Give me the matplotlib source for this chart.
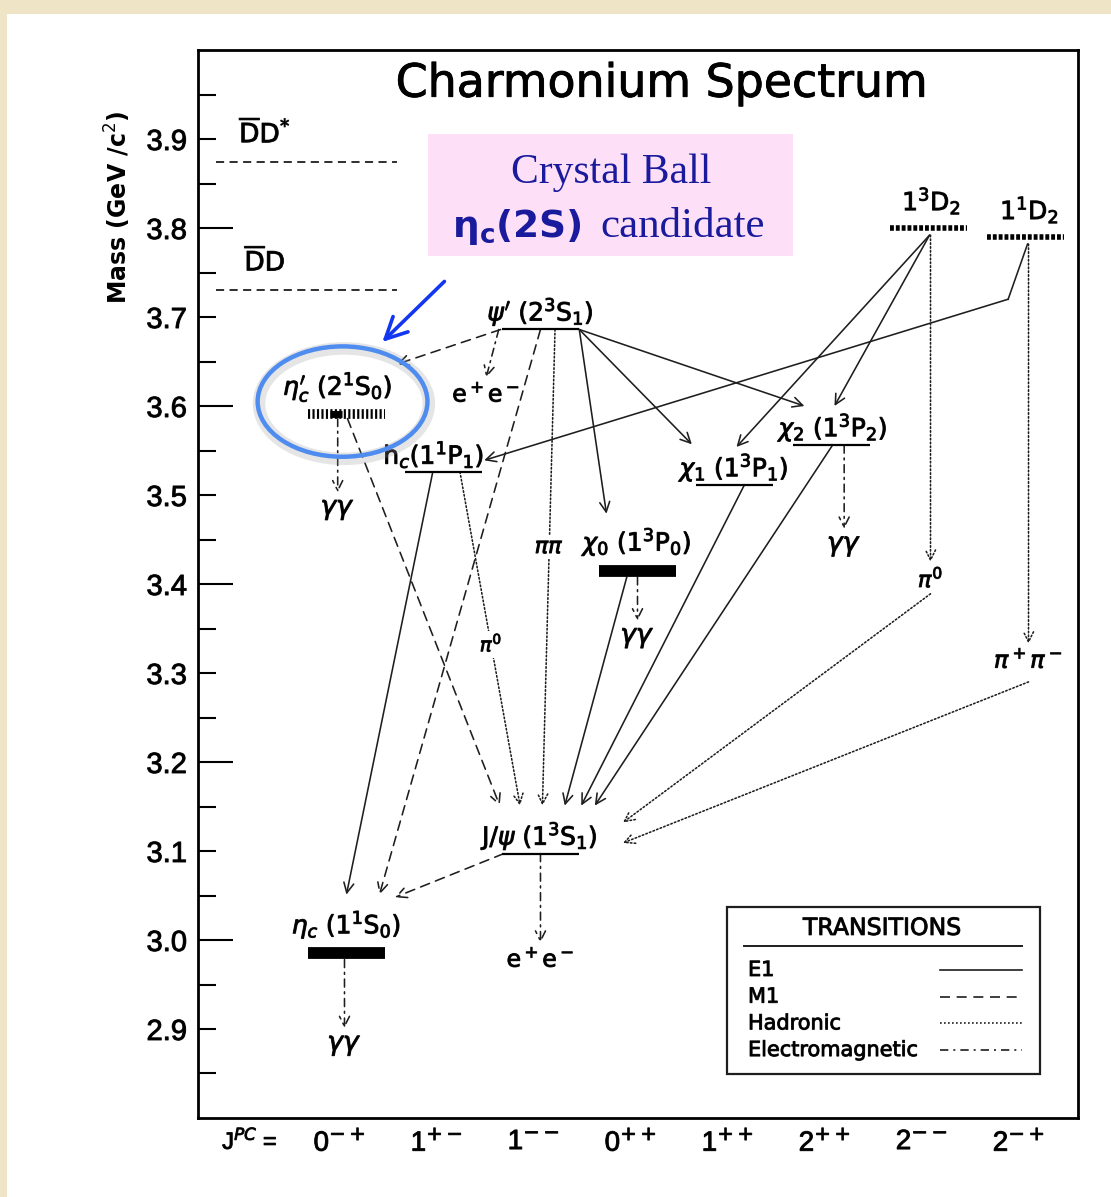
import numpy as np
import matplotlib.pyplot as plt
from matplotlib.patches import Ellipse, Rectangle
from matplotlib.ticker import FuncFormatter
import matplotlib.patheffects as pe

plt.rcParams['mathtext.fontset'] = 'dejavusans'
plt.rcParams['font.family'] = ['DejaVu Sans']

INK = '#1e1e1e'
NAVY = '#1a1a9c'
HEAVY = [pe.withStroke(linewidth=0.7, foreground=INK)]

# charmonium states, masses in GeV/c^2, J^PC column
states = ['etac', 'jpsi', 'etac2s', 'psi2s', 'hc', 'chi0', 'chi1', 'chi2', 'd13', 'd11']
masses = [2.985, 3.097, 3.591, 3.686, 3.526, 3.415, 3.511, 3.556, 3.800, 3.790]
jpc_index = [0, 2, 0, 2, 1, 3, 4, 5, 6, 7]
level_kind = ['thick', 'line', 'hatched', 'line', 'line', 'thick', 'line', 'line', 'dotted', 'dotted']
state_labels = [r'$\eta_c$ (1$^1$S$_0$)', r'J/$\psi$ (1$^3$S$_1$)', r"$\eta_c'$ (2$^1$S$_0$)",
                r"$\psi'$ (2$^3$S$_1$)", r'h$_c$(1$^1$P$_1$)', r'$\chi_0$ (1$^3$P$_0$)',
                r'$\chi_1$ (1$^3$P$_1$)', r'$\chi_2$ (1$^3$P$_2$)', r'1$^3$D$_2$', r'1$^1$D$_2$']
label_dx = [0.0, 0.0, -0.09, 0.0, -0.1, 0.0, 0.0, 0.02, 0.03, 0.04]

jpc_labels = [r'0$^{-+}$', r'1$^{+-}$', r'1$^{--}$', r'0$^{++}$', r'1$^{++}$', r'2$^{++}$', r'2$^{--}$', r'2$^{-+}$']

# open charm thresholds
thresholds = [3.730, 3.874]
threshold_labels = [r'$\overline{\mathrm{D}}$D', r'$\overline{\mathrm{D}}$D$^{*}$']

# radiative / hadronic transitions between levels:
# (from, to, type, start dx, end dx, end height above target)
transitions = [
    ('psi2s', 'etac2s', 'M1', -0.41, 0.52, 0.056),
    ('psi2s', 'etac', 'M1', 0.0, 0.34, 0.066),
    ('psi2s', 'jpsi', 'had', 0.15, 0.02, 0.054),
    ('psi2s', 'chi0', 'E1', 0.40, -0.32, 0.064),
    ('psi2s', 'chi1', 'E1', 0.40, -0.44, 0.046),
    ('psi2s', 'chi2', 'E1', 0.40, -0.28, 0.044),
    ('etac2s', 'jpsi', 'M1', 0.01, -0.42, 0.054),
    ('hc', 'etac', 'E1', -0.11, 0.0, 0.066),
    ('hc', 'jpsi', 'had', 0.17, -0.21, 0.054),
    ('chi0', 'jpsi', 'E1', -0.11, 0.25, 0.054),
    ('chi1', 'jpsi', 'E1', 0.10, 0.42, 0.054),
    ('chi2', 'jpsi', 'E1', 0.01, 0.56, 0.054),
    ('d13', 'chi1', 'E1', 0.01, 0.02, 0.043),
    ('d13', 'chi2', 'E1', 0.01, 0.03, 0.044),
    ('jpsi', 'etac', 'M1', -0.38, 0.5, 0.063),
]
# labels sitting on a transition line: (from, to, text, fraction along line, size)
line_tags = [('psi2s', 'jpsi', r'$\pi\pi$', 0.457, 16), ('hc', 'jpsi', r'$\pi^0$', 0.517, 14)]

# decays to final states: (from, product, type, start dx, end dx, drop of arrow tip, size)
decays = [
    ('psi2s', r'e$^+$e$^-$', 'EM', -0.43, -0.56, 0.054, 17),
    ('etac2s', r'$\gamma\gamma$', 'EM', -0.09, -0.09, 0.088, 19),
    ('chi0', r'$\gamma\gamma$', 'EM', 0.0, 0.0, 0.056, 19),
    ('chi2', r'$\gamma\gamma$', 'EM', 0.13, 0.13, 0.094, 19),
    ('jpsi', r'e$^+$e$^-$', 'EM', 0.0, 0.0, 0.100, 17),
    ('etac', r'$\gamma\gamma$', 'EM', -0.02, -0.02, 0.084, 19),
    ('d13', r'$\pi^0$', 'had', 0.02, 0.02, 0.375, 16),
    ('d11', r'$\pi^+\pi^-$', 'had', 0.03, 0.03, 0.457, 17),
]
# pions go on to J/psi: (from, start drop below arrow tip, end dx, end height)
cascades = [('d13', 0.036, 0.85, 0.035), ('d11', 0.043, 0.85, 0.012)]

styles = {'E1': '-', 'M1': (0, (6, 4)), 'had': (0, (1, 1.4)), 'EM': (0, (5, 3, 1.2, 3))}
legend_names = ['E1', 'M1', 'Hadronic', 'Electromagnetic']
legend_kinds = ['E1', 'M1', 'had', 'EM']


def arrow(ax, p0, p1, kind, lw=1.15):
    ax.annotate('', xy=p1, xytext=p0,
                arrowprops=dict(arrowstyle='->', lw=lw, color=INK, linestyle=styles[kind],
                                shrinkA=0, shrinkB=0, mutation_scale=18), zorder=2)


fig = plt.figure(figsize=(11.11, 11.97), dpi=100, facecolor='#efe4c6')
fig.add_artist(Rectangle((7 / 1111, 0), 1, 1 - 14 / 1197, transform=fig.transFigure,
                         facecolor='white', edgecolor='none', zorder=-10))
ax = fig.add_axes([0.1782, 0.0660, 0.7921, 0.8922])
ax.set_xlim(-1.46, 7.61)
ax.set_ylim(2.8, 4.0)
for s in ax.spines.values():
    s.set_linewidth(2.0)

# long ticks every 0.2, short ones in between; labels every 0.1
ax.set_yticks(np.arange(3.0, 3.85, 0.2))
ax.set_yticks([v for v in np.arange(2.85, 4.0, 0.05) if abs(round(v * 5) - v * 5) > 0.01], minor=True)
ax.yaxis.set_major_formatter(FuncFormatter(lambda v, p: f'{v:.1f}'))
ax.yaxis.set_minor_formatter(FuncFormatter(lambda v, p: f'{v:.1f}' if abs(round(v * 10) - v * 10) < 0.01 else ''))
ax.tick_params(axis='y', which='major', direction='in', length=25, width=1.5, labelsize=21, pad=8)
ax.tick_params(axis='y', which='minor', direction='in', length=13, width=1.5, labelsize=21, pad=8)
for t in ax.get_yticklabels(which='both'):
    t.set_family(['Liberation Sans', 'DejaVu Sans'])
    t.set_path_effects(HEAVY)
ax.set_xticks(range(len(jpc_labels)))
ax.set_xticklabels(jpc_labels)
ax.tick_params(axis='x', length=0, labelsize=20, pad=8)
for t in ax.get_xticklabels():
    t.set_family(['Liberation Sans Narrow', 'Liberation Sans', 'DejaVu Sans'])
    t.set_path_effects(HEAVY)
ax.text(0.059, -0.021, r'J$^{PC}$ =', transform=ax.transAxes, ha='center', va='center', fontsize=17,
        family=['Liberation Sans Narrow', 'Liberation Sans', 'DejaVu Sans'], path_effects=HEAVY)

fig.text(118 / 1111, 1 - 207 / 1197, r'Mass (GeV /c$^2$)', rotation=90, ha='center', va='center',
         fontsize=17, fontweight='bold')
ax.text(0.527, 0.968, 'Charmonium Spectrum', transform=ax.transAxes, ha='center', va='center', fontsize=33,
        path_effects=[pe.withStroke(linewidth=0.6, foreground='black')])

# thresholds
for m, lab in zip(thresholds, threshold_labels):
    ax.plot([-1.27, 0.59], [m, m], color=INK, lw=1.3, linestyle=(0, (4.5, 3)))
    ax.annotate(lab, xy=(-0.77, m), xytext=(0, 21), textcoords='offset points',
                ha='center', va='center', fontsize=19, path_effects=HEAVY)

# levels
label_off = {'thick': 9, 'line': 1, 'hatched': 7, 'dotted': 8}
drop = {'thick': 0.007, 'line': 0.0, 'hatched': 0.005, 'dotted': 0.008}
pos = {}
for name, m, col, kind, lab, ldx in zip(states, masses, jpc_index, level_kind, state_labels, label_dx):
    x = col + 0.07
    pos[name] = (x, m, kind)
    xs = [x - 0.4, x + 0.4]
    if kind == 'thick':
        ax.plot(xs, [m, m], color='black', lw=8.5, solid_capstyle='butt', zorder=3)
    elif kind == 'line':
        ax.plot(xs, [m, m], color='black', lw=1.6, solid_capstyle='butt', zorder=3)
    elif kind == 'hatched':
        ax.plot(xs, [m, m], color='black', lw=7, linestyle=(0, (0.22, 0.24)), dash_capstyle='butt', zorder=3)
        ax.plot([x - 0.17, x - 0.05], [m, m], color='black', lw=5, solid_capstyle='butt', zorder=3)
    else:
        ax.plot(xs, [m, m], color='black', lw=4, linestyle=(0, (0.7, 0.35)), dash_capstyle='butt', zorder=3)
    ax.annotate(lab, xy=(x + ldx, m), xytext=(0, label_off[kind]), textcoords='offset points',
                ha='center', va='bottom', fontsize=18, path_effects=HEAVY)

# transitions between levels
ends = {}
for src, dst, kind, sdx, edx, edy in transitions:
    x0, m0, k0 = pos[src]
    x1, m1, _ = pos[dst]
    p0 = (x0 + sdx, m0 - drop[k0])
    p1 = (x1 + edx, m1 + edy)
    ends[(src, dst)] = (p0, p1)
    arrow(ax, p0, p1, kind)

for src, dst, lab, frac, size in line_tags:
    p0, p1 = ends[(src, dst)]
    ax.text(p0[0] + frac * (p1[0] - p0[0]), p0[1] + frac * (p1[1] - p0[1]), lab, ha='center', va='center',
            fontsize=size, zorder=4, path_effects=HEAVY,
            bbox=dict(facecolor='white', edgecolor='none', pad=1.5))

# 1^1D_2 -> h_c runs along a bent path
x0, m0, _ = pos['d11']
xh, mh, _ = pos['hc']
bend = (x0 - 0.18, m0 - 0.07)
ax.plot([x0 + 0.02, bend[0]], [m0 - 0.008, bend[1]], color=INK, lw=1.15)
arrow(ax, bend, (xh + 0.42, mh + 0.013), 'E1')

# decays to final states
tips = {}
for src, lab, kind, sdx, edx, dy, size in decays:
    x0, m0, k0 = pos[src]
    tip = (x0 + edx, m0 - dy)
    tips[src] = tip
    arrow(ax, (x0 + sdx, m0 - drop[k0]), tip, kind)
    ax.annotate(lab, xy=tip, xytext=(0, -3), textcoords='offset points', ha='center', va='top',
                fontsize=size, path_effects=HEAVY)

xj, mj, _ = pos['jpsi']
for src, sdrop, edx, edy in cascades:
    tx, ty = tips[src]
    arrow(ax, (tx, ty - sdrop), (xj + edx, mj + edy), 'had')

# legend box
ax.add_patch(Rectangle((0.601, 0.0412), 0.356, 0.1564, transform=ax.transAxes, fill=False,
                       edgecolor=INK, lw=1.6, zorder=5))
ax.text(0.778, 0.178, 'TRANSITIONS', transform=ax.transAxes, ha='center', va='center', fontsize=17,
        zorder=5, path_effects=HEAVY)
ax.plot([0.620, 0.936], [0.161, 0.161], transform=ax.transAxes, color=INK, lw=1.4, zorder=5)
for i, (name, kind) in enumerate(zip(legend_names, legend_kinds)):
    yy = 0.1386 - i * 0.0250
    ax.text(0.625, yy, name, transform=ax.transAxes, ha='left', va='center', fontsize=15, zorder=5,
            path_effects=HEAVY)
    ax.plot([0.843, 0.936], [yy, yy], transform=ax.transAxes, color=INK, lw=1.2,
            linestyle=styles[kind], zorder=5)

# Crystal Ball candidate note
ax.add_patch(Rectangle((0.261, 0.807), 0.415, 0.114, transform=ax.transAxes, facecolor='#fde0f8',
                       edgecolor='none', zorder=4))
ax.text(0.470, 0.885, 'Crystal Ball', transform=ax.transAxes, ha='center', va='center', fontsize=30,
        color=NAVY, family=['Liberation Serif', 'DejaVu Serif'], zorder=5)
ax.text(0.436, 0.825, r'$\mathbf{\eta_c(2S)}$', transform=ax.transAxes, ha='right', va='baseline',
        fontsize=27, color=NAVY, zorder=5)
ax.text(0.457, 0.825, 'candidate', transform=ax.transAxes, ha='left', va='baseline', fontsize=31,
        color=NAVY, family=['Liberation Serif', 'DejaVu Serif'], zorder=5)

xe, me, _ = pos['etac2s']
ax.add_patch(Ellipse((xe - 0.04, me + 0.014), width=1.75, height=0.124, fill=False, edgecolor='#4f8cf0',
                     lw=3.2, zorder=5,
                     path_effects=[pe.SimpleLineShadow(offset=(1.0, -1.5), shadow_color='#999999',
                                                       alpha=0.25, linewidth=9), pe.Normal()]))
ax.annotate('', xy=(xe + 0.37, me + 0.081), xytext=(xe + 1.01, me + 0.149),
            arrowprops=dict(arrowstyle='->,head_length=0.7,head_width=0.35', color='#1236f2', lw=2.6,
                            mutation_scale=22, shrinkA=0, shrinkB=0), zorder=5)

fig.savefig('out.png', dpi=100, facecolor=fig.get_facecolor())
